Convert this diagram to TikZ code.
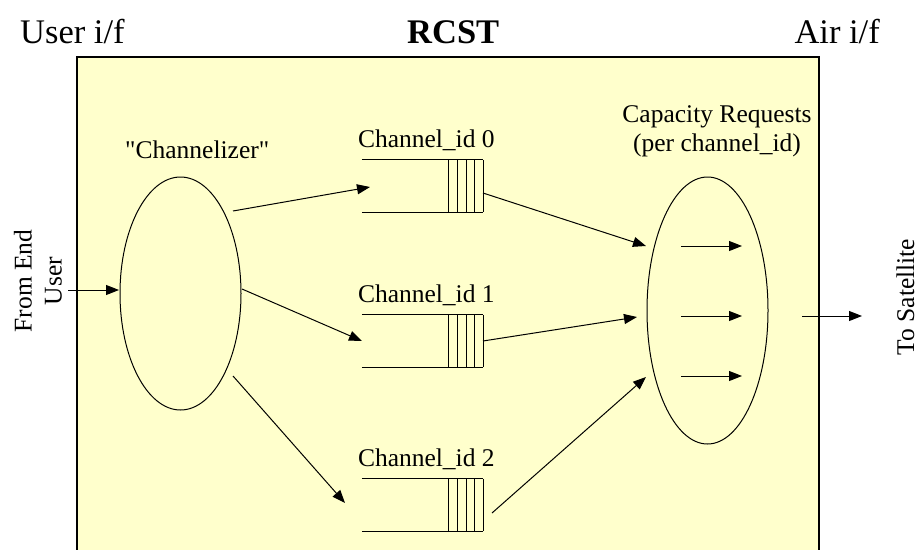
\documentclass[tikz,border=0pt]{standalone}
\usepackage{fontspec}
\setmainfont{Liberation Serif}
\usetikzlibrary{arrows.meta,shapes.geometric}
\definecolor{pale}{HTML}{FFFFCC}
\begin{document}
\begin{tikzpicture}[x=1pt,y=-1pt,
  lbl/.style={inner sep=0pt,font=\fontsize{25.5}{30}\selectfont},
  big/.style={inner sep=0pt,font=\fontsize{34.5}{40}\selectfont},
  conn/.style={line width=1pt,-{Triangle[length=13pt,width=10pt]}},
  oval/.style={draw,ellipse,line width=1pt,inner sep=0pt},
  queue/.style={minimum width=121pt,minimum height=52pt,inner sep=0pt},
  qline/.style={line width=1pt}]
\useasboundingbox (0,0) rectangle (921,549);
% RCST box
\fill[pale] (77,57) rectangle (819,560);
\draw[line width=1.3pt] (77,560) -- (77,57) -- (819,57) -- (819,560);
% top labels
\node[big,anchor=base west] (uif) at (20,43) {User i/f};
\node[big,anchor=base west] (rcst) at (407,43) {\bfseries RCST};
\node[big,anchor=base east] (aif) at (880,43) {Air i/f};
% ellipses
\node[oval,minimum width=121pt,minimum height=233pt] (chz) at (180.5,293.5) {};
\node[oval,minimum width=121pt,minimum height=267pt] (cr) at (707.5,310.5) {};
\node[lbl,anchor=base west] (chzl) at (125,158) {\textquotedbl Channelizer\textquotedbl};
\node[lbl,anchor=base] (crl1) at (717,122) {Capacity Requests};
\node[lbl,anchor=base] (crl2) at (717,151) {(per channel\_id)};
% queues
\node[queue] (q0) at (422.5,186) {};
\node[queue] (q1) at (422.5,341) {};
\node[queue] (q2) at (422.5,505) {};
\foreach \q/\n in {q0/0,q1/1,q2/2}{
  \draw[qline] (\q.north west) -- (\q.north east);
  \draw[qline] (\q.south west) -- (\q.south east);
  \foreach \d in {0,9,17,26,35}
    \draw[qline] ([xshift=-\d pt]\q.north east) -- ([xshift=-\d pt]\q.south east);
  \node[lbl,anchor=base west] (\q l) at ([xshift=-4pt,yshift=12pt]\q.north west) {Channel\_id \n};
}
% side labels
\node[lbl,rotate=90,align=center] (feu) at (38,281) {From End\\User};
\node[lbl,rotate=90,anchor=base] (tsat) at (914,297) {To Satellite};
% connector end points
\coordinate (in0) at (68,290);
\coordinate (in1) at (119,290);
\coordinate (a1s) at (233,211);
\coordinate (a1e) at (370,187);
\coordinate (a2s) at (242,289);
\coordinate (a2e) at (362,341);
\coordinate (a3s) at (233,376);
\coordinate (a3e) at (345,503);
\coordinate (b1s) at (483,193);
\coordinate (b1e) at (646,246);
\coordinate (b2s) at (483,341);
\coordinate (b2e) at (637,317);
\coordinate (b3s) at (492,513);
\coordinate (b3e) at (646,377);
\coordinate (r1s) at (681,246);
\coordinate (r1e) at (742,246);
\coordinate (r2s) at (681,316);
\coordinate (r2e) at (742,316);
\coordinate (r3s) at (681,376);
\coordinate (r3e) at (742,376);
\coordinate (os) at (802,316);
\coordinate (oe) at (862,316);
% connectors
\draw[conn] (in0) -- (in1);
\draw[conn] (a1s) -- (a1e);
\draw[conn] (a2s) -- (a2e);
\draw[conn] (a3s) -- (a3e);
\draw[conn] (b1s) -- (b1e);
\draw[conn] (b2s) -- (b2e);
\draw[conn] (b3s) -- (b3e);
\draw[conn] (r1s) -- (r1e);
\draw[conn] (r2s) -- (r2e);
\draw[conn] (r3s) -- (r3e);
\draw[conn] (os) -- (oe);
\end{tikzpicture}
\end{document}
